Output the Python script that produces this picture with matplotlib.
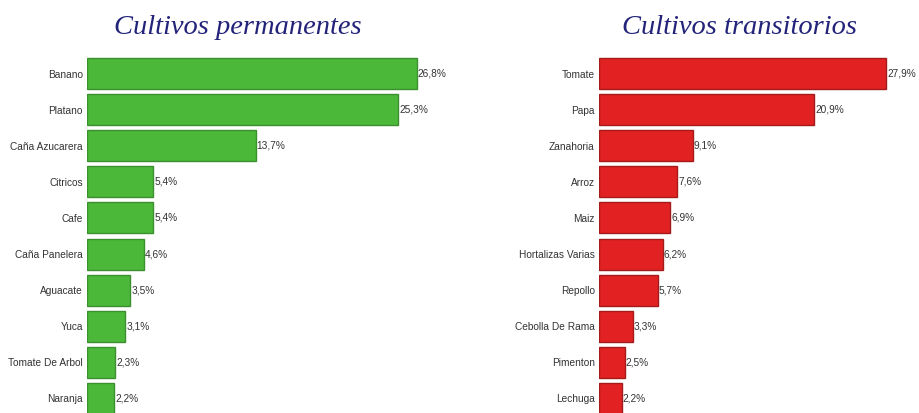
import matplotlib
matplotlib.use("Agg")
import matplotlib.pyplot as plt

perm_labels = ["Banano", "Platano", "Caña Azucarera", "Citricos", "Cafe", "Caña Panelera",
               "Aguacate", "Yuca", "Tomate De Arbol", "Naranja"]
perm_values = [26.8, 25.3, 13.7, 5.4, 5.4, 4.6, 3.5, 3.1, 2.3, 2.2]
perm_text = ["26,8%", "25,3%", "13,7%", "5,4%", "5,4%", "4,6%", "3,5%", "3,1%", "2,3%", "2,2%"]

trans_labels = ["Tomate", "Papa", "Zanahoria", "Arroz", "Maiz", "Hortalizas Varias",
                "Repollo", "Cebolla De Rama", "Pimenton", "Lechuga"]
trans_values = [27.9, 20.9, 9.1, 7.6, 6.9, 6.2, 5.7, 3.3, 2.5, 2.2]
trans_text = ["27,9%", "20,9%", "9,1%", "7,6%", "6,9%", "6,2%", "5,7%", "3,3%", "2,5%", "2,2%"]

W, H = 919, 413
fig = plt.figure(figsize=(W / 100, H / 100), dpi=100)
fig.patch.set_facecolor("white")

label_font = ["Liberation Sans Narrow", "Liberation Sans", "DejaVu Sans"]

def panel(x0, x1, labels, values, texts, color, edge, title, tx):
    top, bottom = 55.5, 416.5
    ax = fig.add_axes([x0 / W, 1 - bottom / H, (x1 - x0) / W, (bottom - top) / H])
    ypos = list(range(len(labels)))
    ax.barh(ypos, values, height=0.86, color=color, edgecolor=edge, linewidth=1.0)
    ax.set_xlim(0, 30)
    ax.set_ylim(len(labels) - 0.5, -0.5)
    ax.set_yticks(ypos)
    ax.set_yticklabels(labels, family=label_font, fontsize=7.3, color="#333333")
    ax.tick_params(axis="y", length=0, pad=3)
    ax.set_xticks([])
    for s in ax.spines.values():
        s.set_visible(False)
    for y, v, t in zip(ypos, values, texts):
        ax.text(v + 0.1, y, t, va="center", ha="left", family=label_font,
                fontsize=7.3, color="#333333")
    fig.text(tx / W, 1 - 27 / H, title, ha="center", va="center",
             family=["Liberation Serif", "DejaVu Serif"], style="italic",
             fontsize=20.5, color="#23237a")
    return ax

panel(87, 456, perm_labels, perm_values, perm_text, "#4cb83a", "#3b8f2e",
      "Cultivos permanentes", 238)
panel(599, 908, trans_labels, trans_values, trans_text, "#e22222", "#a51a1a",
      "Cultivos transitorios", 740)

fig.savefig("out.png", dpi=100, facecolor="white")
